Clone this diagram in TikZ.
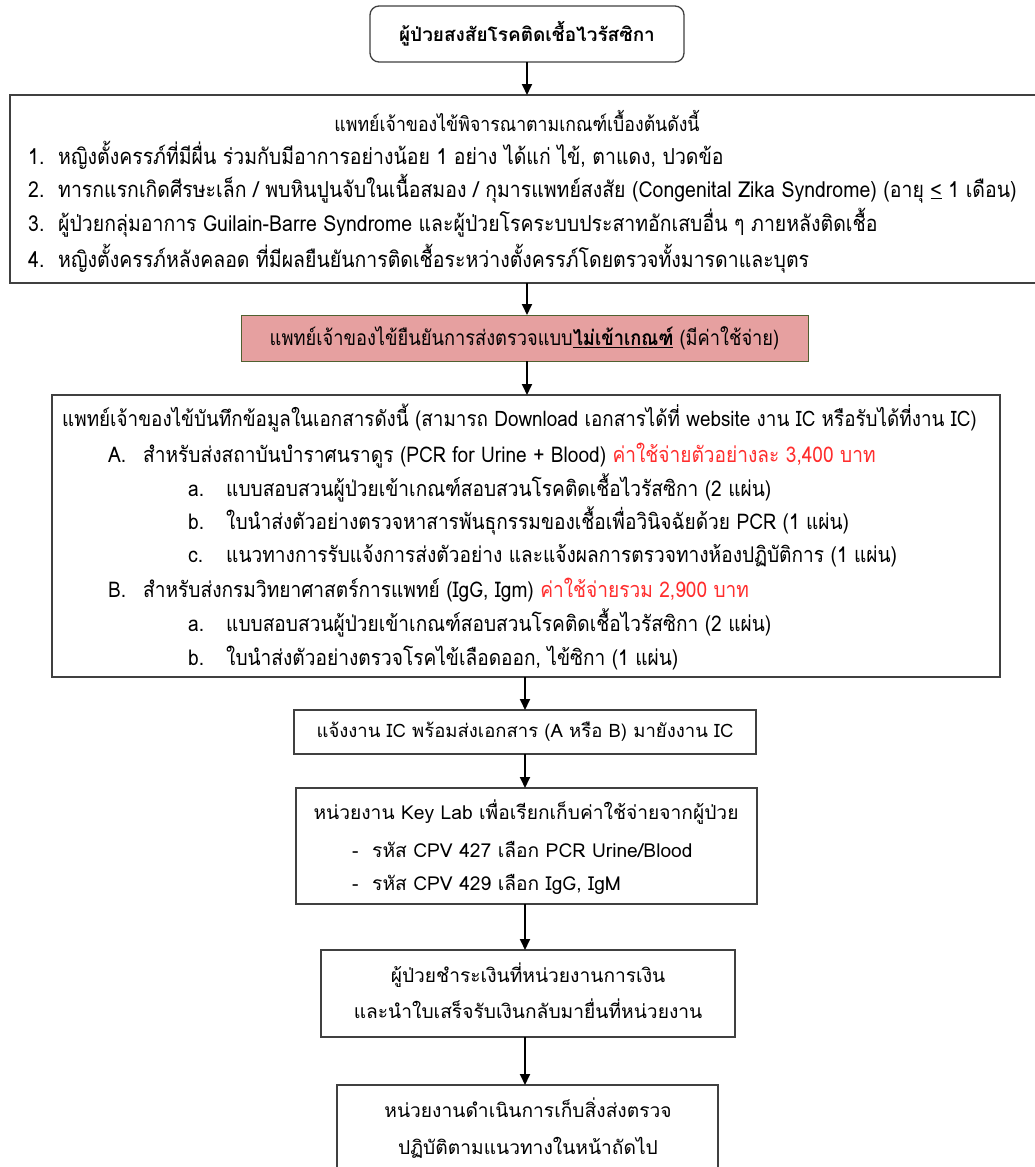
\documentclass[tikz,border=0pt]{standalone}
\usepackage{fontspec}
\setmainfont{Loma}[Script=Thai]
\newfontfamily\condfont{Loma}[Script=Thai,FakeStretch=0.885]
\newfontfamily\midfont{Loma}[Script=Thai,FakeStretch=0.87]
\usetikzlibrary{arrows.meta}
\definecolor{boxline}{RGB}{64,64,64}
\definecolor{pinkfill}{RGB}{230,160,160}
\definecolor{pinkline}{RGB}{80,96,48}
\definecolor{costred}{RGB}{255,45,45}
\begin{document}
\begin{tikzpicture}[x=1pt,y=-1pt,
  box/.style={draw=boxline,line width=1.3pt,inner sep=0pt,outer sep=0pt},
  arr/.style={-{Triangle[length=11pt,width=10pt]},line width=1.8pt,black},
  ln/.style={anchor=base west,inner sep=0pt,font=\fontsize{19.2}{21}\selectfont},
  lc/.style={anchor=base,inner sep=0pt,font=\fontsize{19.2}{21}\selectfont},
  cn/.style={anchor=base west,inner sep=0pt,font=\fontsize{22}{24}\selectfont\condfont},
  cc/.style={anchor=base,inner sep=0pt,font=\fontsize{20}{22}\selectfont\condfont},
  dn/.style={anchor=base west,inner sep=0pt,font=\fontsize{21.6}{24}\selectfont\condfont}]
\useasboundingbox (0,0) rectangle (1035,1167);
\fill[white] (0,0) rectangle (1035,1167);

% boxes
\node[box,rounded corners=9pt,minimum width=314pt,minimum height=56pt,
  font=\fontsize{19}{21}\selectfont\bfseries] (b1) at (527,34) {ผู้ป่วยสงสัยโรคติดเชื้อไวรัสซิกา};
\draw[box] (10,95) rectangle (1040,283);
\coordinate (b2top) at (527,95);
\coordinate (b2bot) at (527,283);
\node[box,draw=pinkline,line width=1pt,fill=pinkfill,minimum width=567pt,minimum height=46pt,
  font=\fontsize{21}{23}\selectfont\midfont] (b3) at (524.5,338)
  {แพทย์เจ้าของไข้ยืนยันการส่งตรวจแบบ\textbf{\underline{ไม่เข้าเกณฑ์}} (มีค่าใช้จ่าย)};
\node[box,minimum width=948pt,minimum height=282pt] (b4) at (526,536) {};
\node[box,minimum width=462pt,minimum height=44pt,font=\fontsize{18.5}{20}\selectfont] (b5) at (525,732)
  {แจ้งงาน IC พร้อมส่งเอกสาร (A หรือ B) มายังงาน IC};
\node[box,minimum width=461pt,minimum height=116pt] (b6) at (526.5,846) {};
\node[box,minimum width=414pt,minimum height=87pt] (b7) at (528,993.5) {};
\node[box,minimum width=381pt,minimum height=120pt] (b8) at (527.5,1145) {};

% box 2 text
\node[cc] (t2a) at (517,131) {แพทย์เจ้าของไข้พิจารณาตามเกณฑ์เบื้องต้นดังนี้};
\node[cn] (n21) at (28,164) {1.};
\node[cn] (t21) at (58,164) {หญิงตั้งครรภ์ที่มีผื่น ร่วมกับมีอาการอย่างน้อย 1 อย่าง ได้แก่ ไข้, ตาแดง, ปวดข้อ};
\node[cn] (n22) at (28,197) {2.};
\node[cn] (t22) at (58,197) {ทารกแรกเกิดศีรษะเล็ก / พบหินปูนจับในเนื้อสมอง / กุมารแพทย์สงสัย (Congenital Zika Syndrome) (อายุ \underline{<} 1 เดือน)};
\node[cn] (n23) at (28,231) {3.};
\node[cn] (t23) at (58,231) {ผู้ป่วยกลุ่มอาการ Guilain-Barre Syndrome และผู้ป่วยโรคระบบประสาทอักเสบอื่น ๆ ภายหลังติดเชื้อ};
\node[cn] (n24) at (28,267) {4.};
\node[cn] (t24) at (58,267) {หญิงตั้งครรภ์หลังคลอด ที่มีผลยืนยันการติดเชื้อระหว่างตั้งครรภ์โดยตรวจทั้งมารดาและบุตร};

% box 4 text
\node[dn,font=\fontsize{21.3}{24}\selectfont\condfont] (t4) at (62,426) {แพทย์เจ้าของไข้บันทึกข้อมูลในเอกสารดังนี้ (สามารถ Download เอกสารได้ที่ website งาน IC หรือรับได้ที่งาน IC)};
\node[dn] (l4A) at (108,462) {A.};
\node[dn] (t4A) at (143,462) {สำหรับส่งสถาบันบำราศนราดูร (PCR for Urine + Blood) \textcolor{costred}{ค่าใช้จ่ายตัวอย่างละ 3,400 บาท}};
\node[dn] (l4Aa) at (188,496) {a.};
\node[dn] (t4Aa) at (226,496) {แบบสอบสวนผู้ป่วยเข้าเกณฑ์สอบสวนโรคติดเชื้อไวรัสซิกา (2 แผ่น)};
\node[dn] (l4Ab) at (188,529) {b.};
\node[dn] (t4Ab) at (226,529) {ใบนำส่งตัวอย่างตรวจหาสารพันธุกรรมของเชื้อเพื่อวินิจฉัยด้วย PCR (1 แผ่น)};
\node[dn] (l4Ac) at (188,562) {c.};
\node[dn] (t4Ac) at (226,562) {แนวทางการรับแจ้งการส่งตัวอย่าง และแจ้งผลการตรวจทางห้องปฏิบัติการ (1 แผ่น)};
\node[dn] (l4B) at (108,597) {B.};
\node[dn] (t4B) at (143,597) {สำหรับส่งกรมวิทยาศาสตร์การแพทย์ (IgG, Igm) \textcolor{costred}{ค่าใช้จ่ายรวม 2,900 บาท}};
\node[dn] (l4Ba) at (188,631) {a.};
\node[dn] (t4Ba) at (226,631) {แบบสอบสวนผู้ป่วยเข้าเกณฑ์สอบสวนโรคติดเชื้อไวรัสซิกา (2 แผ่น)};
\node[dn] (l4Bb) at (188,665) {b.};
\node[dn] (t4Bb) at (226,665) {ใบนำส่งตัวอย่างตรวจโรคไข้เลือดออก, ไข้ซิกา (1 แผ่น)};

% box 6 text
\node[lc] (t6) at (526,819) {หน่วยงาน Key Lab เพื่อเรียกเก็บค่าใช้จ่ายจากผู้ป่วย};
\node[ln] (d61) at (352,857) {-};
\node[ln] (t61) at (372,857) {รหัส CPV 427 เลือก PCR Urine/Blood};
\node[ln] (d62) at (352,890) {-};
\node[ln] (t62) at (372,890) {รหัส CPV 429 เลือก IgG, IgM};

% box 7 text
\node[lc] (t71) at (528,982) {ผู้ป่วยชำระเงินที่หน่วยงานการเงิน};
\node[lc] (t72) at (528,1018) {และนำใบเสร็จรับเงินกลับมายื่นที่หน่วยงาน};

% box 8 text
\node[lc] (t81) at (528,1117) {หน่วยงานดำเนินการเก็บสิ่งส่งตรวจ};
\node[lc] (t82) at (528,1154) {ปฏิบัติตามแนวทางในหน้าถัดไป};

% arrows
\draw[arr] (b1.south) -- (b2top);
\draw[arr] (b2bot) -- (b2bot |- b3.north);
\draw[arr] (b3.south -| b2bot) -- (b4.north -| b2bot);
\draw[arr] (b4.south -| b5.center) -- (b5.north);
\draw[arr] (b5.south) -- (b5.south |- b6.north);
\draw[arr] (b6.south -| b5.center) -- (b7.north -| b5.center);
\draw[arr] (b7.south -| b5.center) -- (b8.north -| b5.center);
\end{tikzpicture}
\end{document}
